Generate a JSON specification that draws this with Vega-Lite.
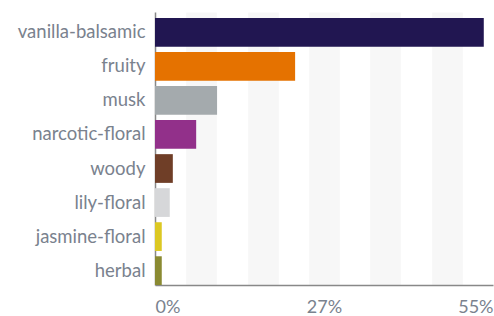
{
  "$schema": "https://vega.github.io/schema/vega-lite/v6.json",
  "width": 338,
  "height": 273,
  "autosize": "none",
  "padding": {"left": 155, "top": 12, "right": 1, "bottom": 31},
  "background": "white",
  "config": {
    "view": {"stroke": null},
    "font": "Lato",
    "axis": {"labelFont": "Lato", "labelColor": "#7a828e", "labelFontSize": 18, "titleFontSize": 0}
  },
  "data": {
    "values": [
      {"note": "vanilla-balsamic", "share": 53.5, "color": "#211651"},
      {"note": "fruity", "share": 22.8, "color": "#e57200"},
      {"note": "musk", "share": 10.1, "color": "#a4aaad"},
      {"note": "narcotic-floral", "share": 6.7, "color": "#92308a"},
      {"note": "woody", "share": 2.9, "color": "#6f3e27"},
      {"note": "lily-floral", "share": 2.4, "color": "#d6d7d9"},
      {"note": "jasmine-floral", "share": 1.1, "color": "#dcc823"},
      {"note": "herbal", "share": 1.1, "color": "#8a8a32"}
    ]
  },
  "encoding": {
    "y": {
      "field": "note", "type": "nominal", "sort": null, "title": null,
      "scale": {"paddingInner": 0.156, "paddingOuter": 0.088, "align": 1},
      "axis": {"ticks": false, "labelPadding": 10, "domainColor": "#888888", "domainWidth": 1.5, "labelFontSize": 18.5}
    }
  },
  "layer": [
    {
      "mark": {"type": "bar", "fillOpacity": 0},
      "encoding": {
        "x": {
          "field": "share", "type": "quantitative", "title": null,
          "scale": {"domain": [0, 55], "nice": false, "zero": true},
          "axis": {"orient": "top", "values": [7.5, 17.5, 27.5, 37.5, 47.5], "grid": true, "gridColor": "#f7f7f7", "gridWidth": 30.7, "labels": false, "ticks": false, "domain": false}
        }
      }
    },
    {
      "mark": {"type": "bar"},
      "encoding": {
        "x": {
          "field": "share", "type": "quantitative", "title": null,
          "axis": {"orient": "bottom", "values": [0, 27.5, 55], "labelExpr": "floor(datum.value) + '%'", "labelFlush": true, "grid": false, "ticks": false, "domainColor": "#888888", "domainWidth": 1.5, "labelPadding": 27, "labelBaseline": "alphabetic", "labelFontSize": 18}
        },
        "color": {"field": "color", "type": "nominal", "scale": null, "legend": null}
      }
    }
  ],
  "resolve": {"axis": {"x": "independent"}}
}
